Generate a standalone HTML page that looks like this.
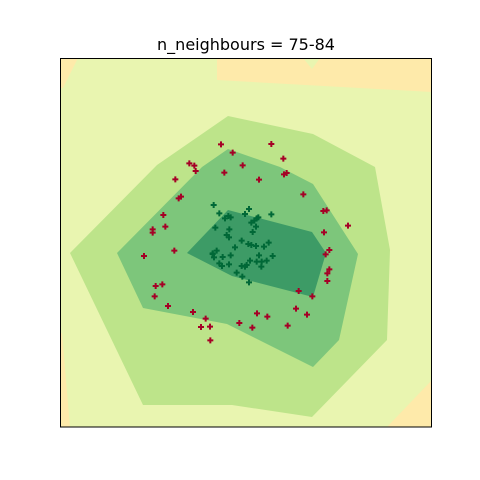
<!DOCTYPE html>
<html><head><meta charset="utf-8"><style>
body{margin:0;background:#fff}
svg{display:block}
</style></head><body>
<svg id="chart" width="480" height="480" viewBox="0 0 480 480" xmlns="http://www.w3.org/2000/svg">
<text x="246" y="50" text-anchor="middle" font-family="DejaVu Sans, sans-serif" font-size="16" fill="#000">n_neighbours = 75-84</text>
<defs><clipPath id="clip"><rect x="60" y="58" width="372" height="369"/></clipPath></defs>
<g id="plot" clip-path="url(#clip)"></g>
<rect x="60.5" y="58.5" width="371" height="368.5" fill="none" stroke="#000" stroke-width="1"/>
</svg>
<script>
// contour polygons in plot-offset units (offset from left/top edge of axes)
const orangeTL = [[0,0],[18,0],[3,30],[0,30]];
const orangeTR = [[157,0],[243,0],[252,11],[260,0],[372,0],[372,34],[157,22]];
const orangeBL = [[0,275],[2,275],[10,369],[0,369]];
const orangeBR = [[372,322],[372,369],[327,369]];
const level2 = [[168,58],[253,76],[315,109],[330,192],[327,282],[252,359],[172,347],[83,347],[10,195],[97,107]];
const level3 = [[168,91],[220,109],[253,126],[298,196],[279,282],[253,309],[167,266],[83,250],[57,195],[142,109]];
const level4 = [[168,152],[252,174],[266,195],[253,239],[172,218],[127,195]];
// points (units of the zoomed sample grid)
const redX = [483,634,518,670,388,403,548,407,493,672,680,597,346,730,356,363,310,790,800,864,278,278,316,792,252,343,808,797,808,802,802,287,307,284,324,716,757,399,708,741,591,622,437,423,450,538,577,683,451];
const redY = [103,102,128,146,160,167,166,183,188,193,189,209,208,253,265,260,315,303,301,347,358,368,350,367,438,422,420,433,478,490,513,528,523,559,588,543,559,606,596,614,610,620,626,651,650,639,653,647,691];
const greenX = [461,567,478,555,634,495,505,512,574,590,583,595,466,588,508,578,500,507,545,565,574,588,612,626,525,470,458,462,488,512,638,597,570,590,605,620,478,486,507,545,555,560,604,530,547,567,458];
const greenY = [285,297,310,312,313,325,318,322,338,325,332,322,353,350,358,366,375,382,392,402,405,408,410,398,412,422,432,442,441,436,438,436,452,455,455,452,460,468,463,468,470,465,470,488,500,517,430];

const NS='http://www.w3.org/2000/svg';
const plot=document.getElementById('plot');
const px=v=>60+v, py=v=>58+v;
const sx=v=>60+v/3, sy=v=>110+v/3;
function poly(pts,fill,name){
  const p=document.createElementNS(NS,'polygon');
  p.setAttribute('points',pts.map(q=>px(q[0])+','+py(q[1])).join(' '));
  p.setAttribute('fill',fill);
  
  
  plot.appendChild(p);
}
const bg=document.createElementNS(NS,'rect');
bg.setAttribute('x',60);bg.setAttribute('y',58);bg.setAttribute('width',372);bg.setAttribute('height',369);bg.setAttribute('fill','#e9f5b0');


plot.appendChild(bg);
poly(orangeTL,'#feeaaa','contour-low-top-left');
poly(orangeTR,'#feeaaa','contour-low-top-right');
poly(orangeBL,'#feeaaa','contour-low-bottom-left');
poly(orangeBR,'#feeaaa','contour-low-bottom-right');
poly(level2,'#bde48a','contour-level-2');
poly(level3,'#7dc67b','contour-level-3');
poly(level4,'#3d9b66','contour-level-4');
function cross(x,y,color,name){
  const g=document.createElementNS(NS,'path');
  g.setAttribute('d',`M${x-3},${y}H${x+3}M${x},${y-3}V${y+3}`);
  g.setAttribute('stroke',color);g.setAttribute('stroke-width','2');
  
  
  plot.appendChild(g);
}
redX.forEach((v,i)=>cross(sx(v),sy(redY[i]),'#a50026','red-point'));
greenX.forEach((v,i)=>cross(sx(v),sy(greenY[i]),'#006837','green-point'));
</script>
</body></html>
